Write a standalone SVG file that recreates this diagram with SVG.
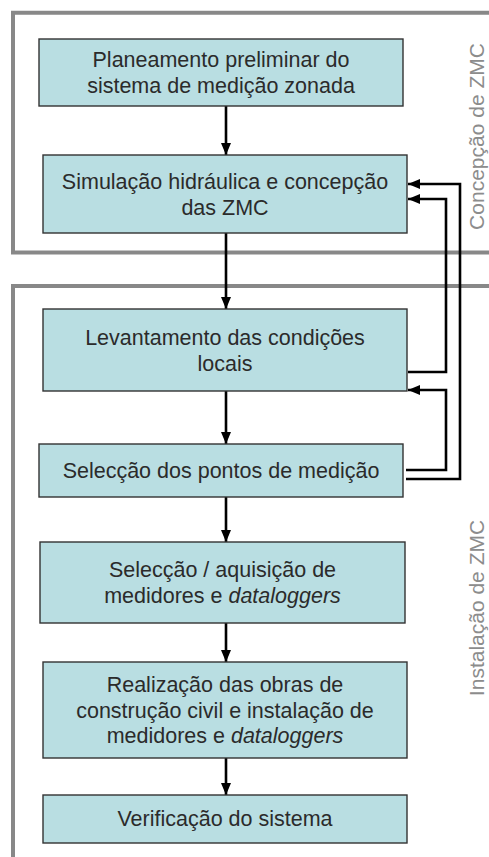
<svg xmlns="http://www.w3.org/2000/svg" width="489" height="857" viewBox="0 0 489 857">
<style>
.box{fill:#b9dee2;stroke:#333;stroke-width:1.4}
.t{font-family:"Liberation Sans",Arial,sans-serif;font-size:21.5px;fill:#2b2b2b;text-anchor:middle}
.lab{font-family:"Liberation Sans",Arial,sans-serif;font-size:21px;fill:#8c8c8c;text-anchor:middle}
.frame{fill:none;stroke:#888;stroke-width:4}
.c{fill:none;stroke:#000;stroke-width:2.6;marker-end:url(#ah)}
</style>
<defs>
<marker id="ah" markerUnits="userSpaceOnUse" markerWidth="13" markerHeight="10" refX="12" refY="5" orient="auto">
<path d="M0,0 L12,5 L0,10 z" fill="#000"/>
</marker>
</defs>
<rect width="489" height="857" fill="#fff"/>
<g id="frames">
<path class="frame" d="M489,12.7 H13 V252.5 H489"/>
<path class="frame" d="M489,286 H13 V857"/>
<text class="lab" transform="translate(484,136.5) rotate(-90)">Concepção de ZMC</text>
<text class="lab" transform="translate(484,608) rotate(-90)">Instalação de ZMC</text>
</g>
<g id="connectors">
<path class="c" d="M226,106 V155"/>
<path class="c" d="M226,233 V309"/>
<path class="c" d="M226,391 V444"/>
<path class="c" d="M226,497 V542"/>
<path class="c" d="M226,623 V662"/>
<path class="c" d="M226,758 V795"/>
<path class="c" d="M406,479 H460 V184 H408"/>
<path class="c" d="M408,372 H446 V199 H408"/>
<path class="c" d="M406,470 H446 V390 H408"/>
</g>
<g id="n1">
<rect class="box" x="39" y="39" width="364" height="67"/>
<text class="t" x="221" y="67">Planeamento preliminar do</text>
<text class="t" x="221" y="93">sistema de medição zonada</text>
</g>
<g id="n2">
<rect class="box" x="43" y="155" width="364" height="78"/>
<text class="t" x="225" y="189">Simulação hidráulica e concepção</text>
<text class="t" x="225" y="215">das ZMC</text>
</g>
<g id="n3">
<rect class="box" x="43" y="309" width="364" height="82"/>
<text class="t" x="225" y="345">Levantamento das condições</text>
<text class="t" x="225" y="371">locais</text>
</g>
<g id="n4">
<rect class="box" x="39" y="444" width="364" height="53"/>
<text class="t" x="221" y="478">Selecção dos pontos de medição</text>
</g>
<g id="n5">
<rect class="box" x="40" y="542" width="365" height="81"/>
<text class="t" x="222.5" y="577">Selecção / aquisição de</text>
<text class="t" x="222.5" y="603">medidores e <tspan font-style="italic">dataloggers</tspan></text>
</g>
<g id="n6">
<rect class="box" x="43" y="662" width="364" height="96"/>
<text class="t" x="225" y="692">Realização das obras de</text>
<text class="t" x="225" y="717.5">construção civil e instalação de</text>
<text class="t" x="225" y="743">medidores e <tspan font-style="italic">dataloggers</tspan></text>
</g>
<g id="n7">
<rect class="box" x="43" y="795" width="364" height="48"/>
<text class="t" x="225" y="826">Verificação do sistema</text>
</g>
</svg>
